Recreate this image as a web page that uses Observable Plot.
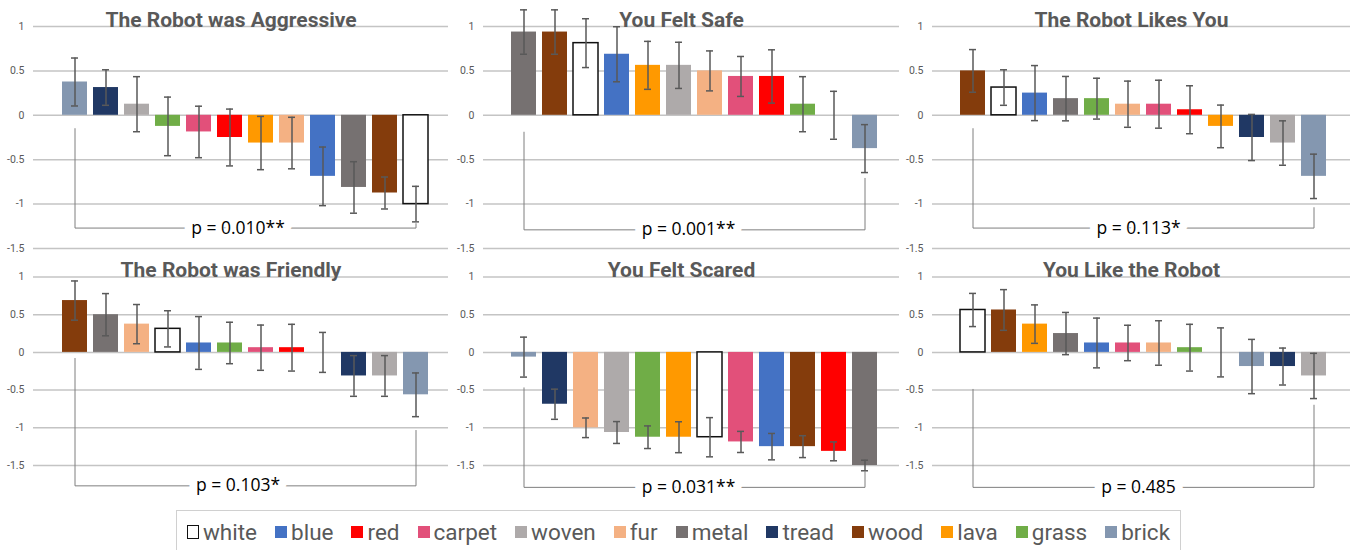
<!DOCTYPE html>
<html><head><meta charset="utf-8">
<script src="https://cdn.jsdelivr.net/npm/d3@7"></script>
<script src="https://cdn.jsdelivr.net/npm/@observablehq/plot@0.6"></script>
<style>
html,body{margin:0;padding:0;background:#fff;overflow:hidden;}
#root{position:relative;width:1353px;height:550px;}
.panel{position:absolute;}
#legend{position:absolute;left:176px;top:510px;width:1005px;height:44px;border:1px solid #d0d0d0;box-sizing:border-box;display:flex;align-items:center;justify-content:center;gap:18px;font-family:Roboto, sans-serif;font-size:22.5px;color:#595959;}
.item{display:flex;align-items:center;gap:4px}
.sw{width:12px;height:12px;display:inline-block;box-sizing:border-box}
</style></head><body><div id="root"></div>
<script>
// ---- data ----
const categories = ["white","blue","red","carpet","woven","fur","metal","tread","wood","lava","grass","brick"];
const colors = ["#FFFFFF","#4472C4","#FF0000","#E2507A","#AEAAAA","#F4B183","#767171","#203864","#843C0C","#FF9900","#70AD47","#8497B0"];
const yTicks = [-1.5, -1, -0.5, 0, 0.5, 1];

const titles = ["The Robot was Aggressive","You Felt Safe","The Robot Likes You","The Robot was Friendly","You Felt Scared","You Like the Robot"];
const pLabels = ["p = 0.010**","p = 0.001**","p = 0.113*","p = 0.103*","p = 0.031**","p = 0.485"];

const aggressiveOrder = ["brick","tread","woven","grass","carpet","red","lava","fur","blue","metal","wood","white"];
const aggressiveMean = [0.375,0.3125,0.125,-0.125,-0.1875,-0.25,-0.3125,-0.3125,-0.6875,-0.8125,-0.875,-1.0];
const aggressiveErr = [0.27,0.2,0.31,0.33,0.29,0.32,0.3,0.29,0.33,0.29,0.18,0.2];

const safeOrder = ["metal","wood","white","blue","lava","woven","fur","carpet","red","grass","tread","brick"];
const safeMean = [0.9375,0.9375,0.8125,0.6875,0.5625,0.5625,0.5,0.4375,0.4375,0.125,0,-0.375];
const safeErr = [0.25,0.25,0.275,0.31,0.27,0.26,0.225,0.225,0.3,0.31,0.27,0.27];

const likesOrder = ["wood","white","blue","metal","grass","fur","carpet","red","lava","tread","woven","brick"];
const likesMean = [0.5,0.3125,0.25,0.1875,0.1875,0.125,0.125,0.0625,-0.125,-0.25,-0.3125,-0.6875];
const likesErr = [0.24,0.2,0.31,0.25,0.23,0.26,0.27,0.27,0.24,0.26,0.25,0.25];

const friendlyOrder = ["wood","metal","fur","white","blue","grass","carpet","red","lava","tread","woven","brick"];
const friendlyMean = [0.6875,0.5,0.375,0.3125,0.125,0.125,0.0625,0.0625,0,-0.3125,-0.3125,-0.5625];
const friendlyErr = [0.26,0.28,0.26,0.24,0.35,0.275,0.3,0.31,0.265,0.27,0.27,0.29];

const scaredOrder = ["brick","tread","fur","woven","grass","lava","white","carpet","blue","wood","red","metal"];
const scaredMean = [-0.0625,-0.6875,-1.0,-1.0625,-1.125,-1.125,-1.125,-1.1875,-1.25,-1.25,-1.3125,-1.5];
const scaredErr = [0.265,0.2,0.13,0.145,0.15,0.205,0.26,0.14,0.175,0.145,0.125,0.07];

const likeOrder = ["white","wood","lava","metal","blue","carpet","fur","grass","red","brick","tread","woven"];
const likeMean = [0.5625,0.5625,0.375,0.25,0.125,0.125,0.125,0.0625,0,-0.1875,-0.1875,-0.3125];
const likeErr = [0.22,0.27,0.255,0.28,0.33,0.235,0.295,0.31,0.325,0.36,0.245,0.3];

const bracketLeftTop = [-0.15,-0.19,-0.15,-0.08,-0.47,-0.49];
const bracketRightTop = [-1.22,-0.71,-1.04,-1.035,-1.58,-0.70];
const bracketBottom = [-1.27,-1.29,-1.27,-1.77,-1.79,-1.79];

// ---- build ----
const colorOf = Object.fromEntries(categories.map((c, i) => [c, colors[i]]));
const series = [
  [aggressiveOrder, aggressiveMean, aggressiveErr],
  [safeOrder, safeMean, safeErr],
  [likesOrder, likesMean, likesErr],
  [friendlyOrder, friendlyMean, friendlyErr],
  [scaredOrder, scaredMean, scaredErr],
  [likeOrder, likeMean, likeErr]
];
const cols = [
  {left: 0, ml: 33, il: 25.5, ir: 16.5},
  {left: 451, ml: 32, il: 23.4, ir: 18.4},
  {left: 902, ml: 30, il: 23.5, ir: 20.5}
];
const rows = [
  {top: 0, height: 255, mt: 26, mb: 7},
  {top: 255, height: 250, mt: 21.5, mb: 40}
];
const root = document.getElementById("root");

series.forEach(([order, mean, err], i) => {
  const col = cols[i % 3], row = rows[Math.floor(i / 3)];
  const data = order.map((c, j) => ({cat: c, v: mean[j], e: err[j]}));
  const first = order[0], last = order[order.length - 1];
  const bracket = [
    {x: first, y: bracketLeftTop[i]},
    {x: first, y: bracketBottom[i]},
    {x: last, y: bracketBottom[i]},
    {x: last, y: bracketRightTop[i]}
  ];
  const chart = Plot.plot({
    width: 451,
    height: row.height,
    marginLeft: col.ml,
    marginRight: 3,
    marginTop: row.mt,
    marginBottom: row.mb,
    style: {fontFamily: "Roboto, sans-serif", fontSize: "10.5px", color: "#595959", background: "transparent", overflow: "visible"},
    x: {domain: order, axis: null, paddingInner: 0.2, paddingOuter: 0.1, insetLeft: col.il, insetRight: col.ir},
    y: {domain: [-1.5, 1], ticks: yTicks, tickSize: 0, tickPadding: 9, tickFormat: d => String(d), label: null},
    color: {type: "identity"},
    marks: [
      Plot.ruleY(yTicks, {stroke: "#c4c4c4", strokeWidth: 1.5}),
      Plot.barY(data, {x: "cat", y: "v", fill: d => colorOf[d.cat], stroke: d => d.cat === "white" ? "#111111" : "none", strokeWidth: 1.5}),
      Plot.ruleX(data, {x: "cat", y1: d => d.v - d.e, y2: d => d.v + d.e, stroke: "#595959", strokeWidth: 1.5}),
      Plot.tickY(data, {x: "cat", y: d => d.v - d.e, insetLeft: 9, insetRight: 9, stroke: "#595959", strokeWidth: 1.5}),
      Plot.tickY(data, {x: "cat", y: d => d.v + d.e, insetLeft: 9, insetRight: 9, stroke: "#595959", strokeWidth: 1.5}),
      Plot.line(bracket, {x: "x", y: "y", stroke: "#7f7f7f", strokeWidth: 1}),
      Plot.text([{y: bracketBottom[i], t: pLabels[i]}], {y: "y", text: "t", fontSize: 17.5, fontFamily: "'Open Sans', sans-serif", fill: "#000", stroke: "white", strokeWidth: 16, paintOrder: "stroke", dx: -3}),
      Plot.text([titles[i]], {frameAnchor: "top", lineAnchor: "bottom", dx: -10, dy: 0, fontSize: 21, fontWeight: "bold", fill: "#595959"})
    ]
  });
  const div = document.createElement("div");
  div.className = "panel";
  div.style.left = col.left + "px";
  div.style.top = row.top + "px";
  div.appendChild(chart);
  root.appendChild(div);
});

// legend
const legend = document.createElement("div");
legend.id = "legend";
categories.forEach((c, i) => {
  const item = document.createElement("div");
  item.className = "item";
  const sw = document.createElement("span");
  sw.className = "sw";
  sw.style.background = colors[i];
  if (c === "white") { sw.style.border = "1.5px solid #111"; sw.style.height = "14px"; }
  const t = document.createElement("span");
  t.textContent = c;
  item.appendChild(sw); item.appendChild(t);
  legend.appendChild(item);
});
root.appendChild(legend);
</script></body></html>
